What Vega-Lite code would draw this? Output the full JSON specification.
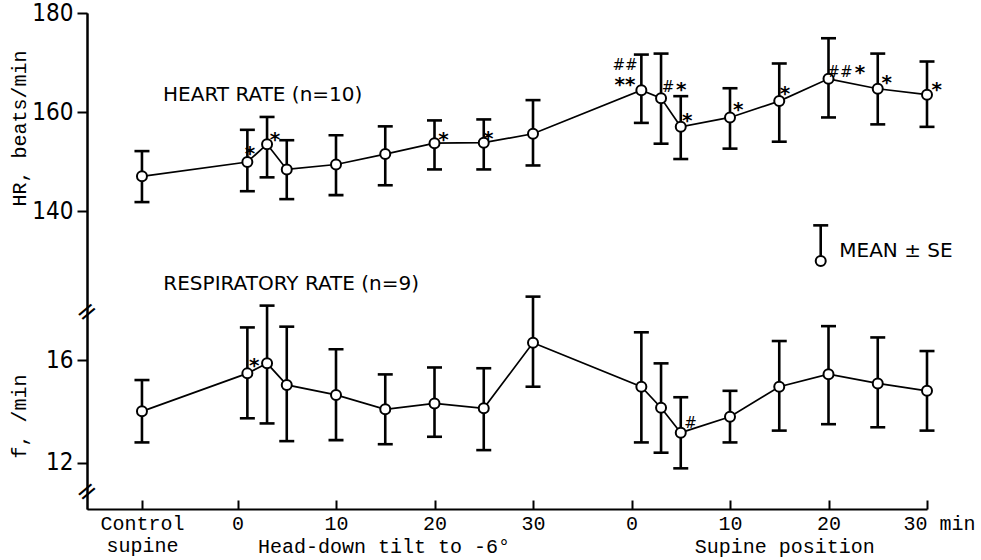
{
  "$schema": "https://vega.github.io/schema/vega-lite/v6.json",
  "width": 840,
  "height": 496,
  "autosize": {"type": "none"},
  "padding": {"left": 87, "top": 13, "right": 54, "bottom": 51},
  "background": "white",
  "config": {
    "view": {"stroke": null},
    "axis": {"domainColor": "black", "domainWidth": 2, "tickColor": "black", "tickWidth": 2, "labelColor": "black", "titleColor": "black", "grid": false}
  },
  "datasets": {
    "hr": [
      {"t": -9.7, "hr": 147.0, "lo": 141.8, "hi": 152.1},
      {"t": 1, "hr": 149.9, "lo": 144.0, "hi": 156.4},
      {"t": 3, "hr": 153.5, "lo": 146.8, "hi": 159.0},
      {"t": 5, "hr": 148.4, "lo": 142.4, "hi": 154.3},
      {"t": 10, "hr": 149.4, "lo": 143.2, "hi": 155.3},
      {"t": 15, "hr": 151.5, "lo": 145.2, "hi": 157.1},
      {"t": 20, "hr": 153.7, "lo": 148.4, "hi": 158.3},
      {"t": 25, "hr": 153.8, "lo": 148.4, "hi": 158.5},
      {"t": 30, "hr": 155.6, "lo": 149.2, "hi": 162.4},
      {"t": 41, "hr": 164.4, "lo": 157.8, "hi": 171.6},
      {"t": 43, "hr": 162.8, "lo": 153.6, "hi": 171.8},
      {"t": 45, "hr": 157.0, "lo": 150.5, "hi": 163.2},
      {"t": 50, "hr": 158.9, "lo": 152.6, "hi": 164.8},
      {"t": 55, "hr": 162.2, "lo": 154.0, "hi": 169.8},
      {"t": 60, "hr": 166.7, "lo": 158.9, "hi": 174.9},
      {"t": 65, "hr": 164.7, "lo": 157.5, "hi": 171.8},
      {"t": 70, "hr": 163.5, "lo": 157.0, "hi": 170.2}
    ],
    "rr": [
      {"t": -9.7, "f": 14.0, "lo": 12.79, "hi": 15.22},
      {"t": 1, "f": 15.48, "lo": 13.73, "hi": 17.27},
      {"t": 3, "f": 15.87, "lo": 13.53, "hi": 18.12},
      {"t": 5, "f": 15.03, "lo": 12.84, "hi": 17.3},
      {"t": 10, "f": 14.64, "lo": 12.88, "hi": 16.42},
      {"t": 15, "f": 14.08, "lo": 12.72, "hi": 15.44},
      {"t": 20, "f": 14.31, "lo": 13.01, "hi": 15.71},
      {"t": 25, "f": 14.12, "lo": 12.49, "hi": 15.68},
      {"t": 30, "f": 16.67, "lo": 14.96, "hi": 18.47},
      {"t": 41, "f": 14.96, "lo": 12.79, "hi": 17.08},
      {"t": 43, "f": 14.14, "lo": 12.39, "hi": 15.87},
      {"t": 45, "f": 13.17, "lo": 11.78, "hi": 14.55},
      {"t": 50, "f": 13.79, "lo": 12.79, "hi": 14.8},
      {"t": 55, "f": 14.96, "lo": 13.25, "hi": 16.74},
      {"t": 60, "f": 15.45, "lo": 13.5, "hi": 17.32},
      {"t": 65, "f": 15.09, "lo": 13.38, "hi": 16.88},
      {"t": 70, "f": 14.8, "lo": 13.25, "hi": 16.35}
    ],
    "hrnotes": [
      {"t": 1.27, "v": 152.6, "label": "*", "kind": "star"},
      {"t": 3.81, "v": 155.3, "label": "*", "kind": "star"},
      {"t": 20.9, "v": 155.3, "label": "*", "kind": "star"},
      {"t": 25.46, "v": 155.6, "label": "*", "kind": "star"},
      {"t": 39.34, "v": 169.4, "label": "##", "kind": "hash"},
      {"t": 39.34, "v": 166.4, "label": "**", "kind": "star"},
      {"t": 43.72, "v": 165.0, "label": "#", "kind": "hash"},
      {"t": 45.05, "v": 165.5, "label": "*", "kind": "star"},
      {"t": 45.66, "v": 159.1, "label": "*", "kind": "star"},
      {"t": 50.84, "v": 161.4, "label": "*", "kind": "star"},
      {"t": 55.58, "v": 164.7, "label": "*", "kind": "star"},
      {"t": 61.16, "v": 168.1, "label": "##", "kind": "hash"},
      {"t": 63.2, "v": 168.8, "label": "*", "kind": "star"},
      {"t": 65.9, "v": 166.9, "label": "*", "kind": "star"},
      {"t": 70.99, "v": 165.5, "label": "*", "kind": "star"},
      {"t": -7.56, "v": 163.4, "label": "HEART RATE (n=10)", "kind": "head"},
      {"t": 61.09, "v": 131.9, "label": "MEAN ± SE", "kind": "head"}
    ],
    "legend": [
      {"t": 59.21, "hr": 129.9, "lo": 129.9, "hi": 137.1}
    ],
    "rrnotes": [
      {"t": 1.71, "v": 15.97, "label": "*", "kind": "star"},
      {"t": 46.0, "v": 13.53, "label": "#", "kind": "hash"},
      {"t": -7.53, "v": 18.96, "label": "RESPIRATORY RATE (n=9)", "kind": "head"},
      {"t": 14.87, "v": 8.72, "label": "Head-down tilt to -6°", "kind": "xlab"},
      {"t": 55.55, "v": 8.72, "label": "Supine position", "kind": "xlab"},
      {"t": -15.28, "v": 17.88, "label": "=", "kind": "brk"},
      {"t": -15.28, "v": 10.87, "label": "=", "kind": "brk"}
    ]
  },
  "encoding": {
    "x": {
      "field": "t", "type": "quantitative",
      "scale": {"domain": [-15.28, 70], "nice": false, "zero": false},
      "axis": {
        "values": [-9.7, 0, 10, 20, 30, 40, 50, 60, 70],
        "labelExpr": "datum.value < -5 ? ['Control', 'supine'] : datum.value == 70 ? '30 min' : datum.value >= 40 ? format(datum.value - 40, 'd') : format(datum.value, 'd')",
        "labelFont": "Liberation Mono", "labelFontSize": 20, "labelLineHeight": 22,
        "tickSize": -9, "labelPadding": 13, "title": null,
        "labelOffset": {"condition": {"test": "datum.value == 70", "value": 12}, "value": 0},
        "labelFlush": false, "labelOverlap": false, "labelBound": false
      }
    }
  },
  "layer": [
    {
      "layer": [
        {
          "data": {"name": "hr"},
          "mark": {"type": "line", "color": "black", "strokeWidth": 1.7},
          "encoding": {
            "y": {"field": "hr", "type": "quantitative",
              "scale": {"domain": [79.8, 180], "nice": false, "zero": false},
              "axis": {"orient": "left", "values": [140, 160, 180], "title": "HR, beats/min",
                "titleFont": "Liberation Mono", "titleFontSize": 20, "titleFontWeight": "normal",
                "titleX": -58, "titleY": 115,
                "labelFont": "Liberation Sans Narrow, Arial Narrow, DejaVu Sans Condensed, Liberation Sans", "labelFontSize": 24,
                "tickSize": 10, "labelPadding": 4}}
          }
        },
        {
          "data": {"name": "hr"},
          "mark": {"type": "rule", "color": "black", "strokeWidth": 2.6},
          "encoding": {"y": {"field": "lo", "type": "quantitative"}, "y2": {"field": "hi"}}
        },
        {
          "data": {"name": "hr"},
          "mark": {"type": "tick", "orient": "horizontal", "color": "black", "size": 15, "thickness": 2.6, "opacity": 1},
          "encoding": {"y": {"field": "hi", "type": "quantitative"}}
        },
        {
          "data": {"name": "hr"},
          "mark": {"type": "tick", "orient": "horizontal", "color": "black", "size": 15, "thickness": 2.6, "opacity": 1},
          "encoding": {"y": {"field": "lo", "type": "quantitative"}}
        },
        {
          "data": {"name": "hr"},
          "mark": {"type": "point", "shape": "circle", "filled": true, "fill": "white", "stroke": "black", "strokeWidth": 2, "size": 100, "opacity": 1},
          "encoding": {"y": {"field": "hr", "type": "quantitative"}}
        },
        {
          "data": {"name": "legend"},
          "mark": {"type": "rule", "color": "black", "strokeWidth": 2.6},
          "encoding": {"y": {"field": "lo", "type": "quantitative"}, "y2": {"field": "hi"}}
        },
        {
          "data": {"name": "legend"},
          "mark": {"type": "tick", "orient": "horizontal", "color": "black", "size": 15, "thickness": 2.6, "opacity": 1},
          "encoding": {"y": {"field": "hi", "type": "quantitative"}}
        },
        {
          "data": {"name": "legend"},
          "mark": {"type": "point", "shape": "circle", "filled": true, "fill": "white", "stroke": "black", "strokeWidth": 2, "size": 100, "opacity": 1},
          "encoding": {"y": {"field": "hr", "type": "quantitative"}}
        },
        {
          "data": {"name": "hrnotes"},
          "transform": [{"filter": "datum.kind == 'star'"}],
          "mark": {"type": "text", "font": "DejaVu Sans", "fontSize": 20, "fontWeight": "bold", "align": "center", "baseline": "middle", "dy": 5, "fill": "#000000"},
          "encoding": {"y": {"field": "v", "type": "quantitative"}, "text": {"field": "label"}}
        },
        {
          "data": {"name": "hrnotes"},
          "transform": [{"filter": "datum.kind == 'hash'"}],
          "mark": {"type": "text", "font": "DejaVu Sans", "fontSize": 15, "align": "center", "baseline": "middle", "fill": "#000000"},
          "encoding": {"y": {"field": "v", "type": "quantitative"}, "text": {"field": "label"}}
        },
        {
          "data": {"name": "hrnotes"},
          "transform": [{"filter": "datum.kind == 'head'"}],
          "mark": {"type": "text", "font": "DejaVu Sans", "fontSize": 20, "align": "left", "baseline": "middle", "fill": "#000000"},
          "encoding": {"y": {"field": "v", "type": "quantitative"}, "text": {"field": "label"}}
        }
      ]
    },
    {
      "layer": [
        {
          "data": {"name": "rr"},
          "mark": {"type": "line", "color": "black", "strokeWidth": 1.7},
          "encoding": {
            "y": {"field": "f", "type": "quantitative",
              "scale": {"domain": [10.196, 29.52], "nice": false, "zero": false},
              "axis": {"orient": "left", "values": [12, 16], "title": "f, /min",
                "titleFont": "Liberation Mono", "titleFontSize": 20, "titleFontWeight": "normal",
                "titleX": -58, "titleY": 403,
                "labelFont": "Liberation Sans Narrow, Arial Narrow, DejaVu Sans Condensed, Liberation Sans", "labelFontSize": 24,
                "tickSize": 10, "labelPadding": 4}}
          }
        },
        {
          "data": {"name": "rr"},
          "mark": {"type": "rule", "color": "black", "strokeWidth": 2.6},
          "encoding": {"y": {"field": "lo", "type": "quantitative"}, "y2": {"field": "hi"}}
        },
        {
          "data": {"name": "rr"},
          "mark": {"type": "tick", "orient": "horizontal", "color": "black", "size": 15, "thickness": 2.6, "opacity": 1},
          "encoding": {"y": {"field": "hi", "type": "quantitative"}}
        },
        {
          "data": {"name": "rr"},
          "mark": {"type": "tick", "orient": "horizontal", "color": "black", "size": 15, "thickness": 2.6, "opacity": 1},
          "encoding": {"y": {"field": "lo", "type": "quantitative"}}
        },
        {
          "data": {"name": "rr"},
          "mark": {"type": "point", "shape": "circle", "filled": true, "fill": "white", "stroke": "black", "strokeWidth": 2, "size": 100, "opacity": 1},
          "encoding": {"y": {"field": "f", "type": "quantitative"}}
        },
        {
          "data": {"name": "rrnotes"},
          "transform": [{"filter": "datum.kind == 'star'"}],
          "mark": {"type": "text", "font": "DejaVu Sans", "fontSize": 20, "fontWeight": "bold", "align": "center", "baseline": "middle", "dy": 5, "fill": "#000000"},
          "encoding": {"y": {"field": "v", "type": "quantitative"}, "text": {"field": "label"}}
        },
        {
          "data": {"name": "rrnotes"},
          "transform": [{"filter": "datum.kind == 'hash'"}],
          "mark": {"type": "text", "font": "DejaVu Sans", "fontSize": 15, "align": "center", "baseline": "middle", "fill": "#000000"},
          "encoding": {"y": {"field": "v", "type": "quantitative"}, "text": {"field": "label"}}
        },
        {
          "data": {"name": "rrnotes"},
          "transform": [{"filter": "datum.kind == 'head'"}],
          "mark": {"type": "text", "font": "DejaVu Sans", "fontSize": 20, "align": "left", "baseline": "middle", "fill": "#000000"},
          "encoding": {"y": {"field": "v", "type": "quantitative"}, "text": {"field": "label"}}
        },
        {
          "data": {"name": "rrnotes"},
          "transform": [{"filter": "datum.kind == 'xlab'"}],
          "mark": {"type": "text", "font": "Liberation Mono", "fontSize": 20, "align": "center", "baseline": "middle", "fill": "#000000"},
          "encoding": {"y": {"field": "v", "type": "quantitative"}, "text": {"field": "label"}}
        },
        {
          "data": {"name": "rrnotes"},
          "transform": [{"filter": "datum.kind == 'brk'"}],
          "mark": {"type": "text", "font": "DejaVu Sans", "fontSize": 26, "align": "center", "baseline": "middle", "angle": -40, "fill": "#000000"},
          "encoding": {"y": {"field": "v", "type": "quantitative"}, "text": {"field": "label"}}
        }
      ]
    }
  ],
  "resolve": {"scale": {"y": "independent"}}
}
